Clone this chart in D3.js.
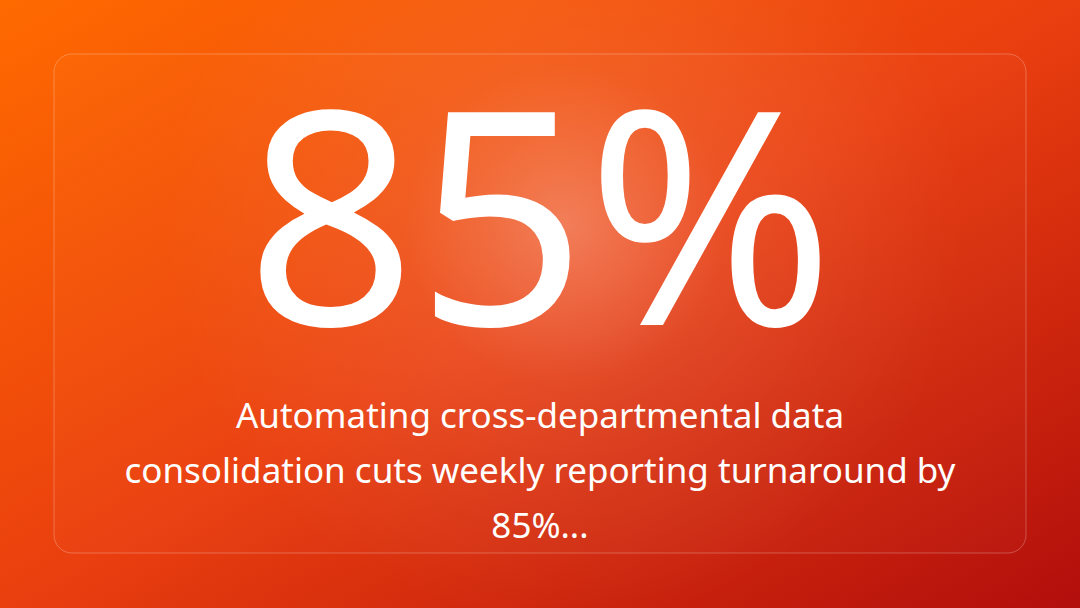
<!DOCTYPE html>
<html lang="en">
<head>
<meta charset="UTF-8">
<title>85%</title>
<script src="https://d3js.org/d3.v7.min.js"></script>
<style>
  html, body { margin: 0; padding: 0; overflow: hidden; }
  svg { display: block; font-family: "Noto Sans", "Open Sans", sans-serif; }
</style>
</head>
<body>
<div id="chart"></div>
<script>
// Data
const statValues = [85];
const statUnits = ["%"];
const captionLines = [
  "Automating cross-departmental data",
  "consolidation cuts weekly reporting turnaround by",
  "85%..."
];

const width = 1080, height = 608;
const card = { x: 54, y: 54, w: 972, h: 499, r: 18 };

const svg = d3.select("#chart").append("svg")
  .attr("width", width).attr("height", height);

const defs = svg.append("defs");
const lin = defs.append("linearGradient").attr("id", "bg")
  .attr("x1", "0%").attr("y1", "0%").attr("x2", "100%").attr("y2", "100%");
lin.append("stop").attr("offset", "0%").attr("stop-color", "#ff6a00");
lin.append("stop").attr("offset", "50%").attr("stop-color", "#ea3f0f");
lin.append("stop").attr("offset", "100%").attr("stop-color", "#b20e0c");

const rad = defs.append("radialGradient").attr("id", "glow")
  .attr("cx", 565).attr("cy", 225).attr("r", 400)
  .attr("gradientUnits", "userSpaceOnUse");
rad.append("stop").attr("offset", "0%").attr("stop-color", "#fff").attr("stop-opacity", 0.3);
rad.append("stop").attr("offset", "40%").attr("stop-color", "#fff").attr("stop-opacity", 0.08);
rad.append("stop").attr("offset", "100%").attr("stop-color", "#fff").attr("stop-opacity", 0);

svg.append("rect").attr("width", width).attr("height", height).attr("fill", "url(#bg)");
svg.append("rect").attr("width", width).attr("height", height).attr("fill", "url(#glow)");

svg.append("rect")
  .attr("x", card.x).attr("y", card.y).attr("width", card.w).attr("height", card.h)
  .attr("rx", card.r)
  .attr("fill", "#fff").attr("fill-opacity", 0.02)
  .attr("stroke", "#fff").attr("stroke-opacity", 0.25).attr("stroke-width", 1);

// Big number
svg.selectAll("text.stat").data(statValues).join("text")
  .attr("class", "stat")
  .attr("x", width / 2).attr("y", 325)
  .attr("text-anchor", "middle")
  .attr("fill", "#fff")
  .attr("font-size", 298)
  .text((d, i) => d + statUnits[i]);

// Caption
const lineY = d3.scalePoint().domain(d3.range(captionLines.length)).range([428, 538]);
svg.selectAll("text.caption").data(captionLines).join("text")
  .attr("class", "caption")
  .attr("x", width / 2).attr("y", (d, i) => lineY(i))
  .attr("text-anchor", "middle")
  .attr("fill", "#fff")
  .attr("font-size", 35)
  .text(d => d);
</script>
</body>
</html>
